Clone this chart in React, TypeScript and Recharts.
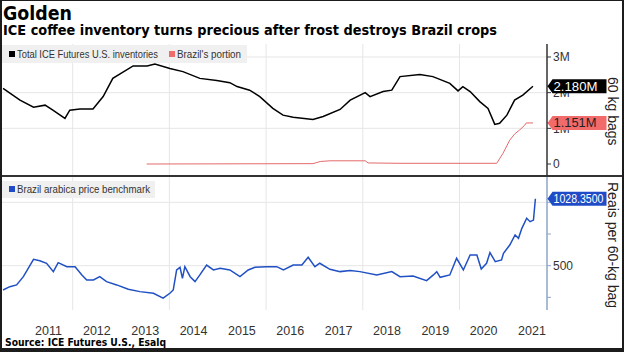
import React from "react";
import { LineChart, Line, XAxis, YAxis, CartesianGrid } from "recharts";

// Total ICE Futures U.S. inventories, million 60-kg bags
const inventoryYears = [
  2010.56, 2010.91, 2011.19, 2011.43, 2011.59, 2011.84, 2011.94, 2012.15, 2012.42, 2012.63,
  2012.83, 2013.25, 2013.54, 2013.7, 2014.01, 2014.28, 2014.63, 2014.98, 2015.25, 2015.4,
  2015.66, 2015.87, 2016.14, 2016.35, 2016.56, 2016.97, 2017.18, 2017.53, 2017.74, 2018.05,
  2018.15, 2018.42, 2018.6, 2018.77, 2019.18, 2019.45, 2019.8, 2019.97, 2020.07, 2020.22,
  2020.42, 2020.59, 2020.73, 2020.83, 2020.98, 2021.14, 2021.31, 2021.52,
];
const inventoryTotal = [
  2.12, 1.79, 1.59, 1.65, 1.51, 1.28, 1.51, 1.54, 1.54, 1.89,
  2.4, 2.75, 2.75, 2.8, 2.68, 2.59, 2.4, 2.34, 2.28, 2.17,
  2.07, 1.89, 1.56, 1.37, 1.31, 1.25, 1.33, 1.53, 1.79, 2.0,
  1.89, 2.03, 2.07, 2.45, 2.51, 2.45, 2.26, 2.05, 2.17, 2.03,
  1.75, 1.56, 1.11, 1.14, 1.37, 1.79, 1.93, 2.18,
];

// Brazil's portion, million bags
const brazilYears = [
  2013.53, 2016.97, 2017.12, 2017.32, 2018.05, 2018.11, 2018.77, 2020.77, 2020.9, 2021.04,
  2021.14, 2021.24, 2021.35, 2021.38, 2021.52,
];
const brazilPortion = [
  0.0, 0.01, 0.07, 0.09, 0.09, 0.03, 0.02, 0.02, 0.3, 0.67,
  0.84, 0.95, 1.09, 1.15, 1.151,
];

// Brazil arabica price benchmark, reais per 60-kg bag
const priceYears = [
  2010.56, 2010.7, 2010.84, 2010.98, 2011.12, 2011.19, 2011.32, 2011.46, 2011.6, 2011.7,
  2011.88, 2012.05, 2012.19, 2012.29, 2012.43, 2012.56, 2012.7, 2012.91, 2013.15, 2013.39,
  2013.67, 2013.87, 2014.01, 2014.08, 2014.15, 2014.22, 2014.27, 2014.32, 2014.43, 2014.53,
  2014.63, 2014.77, 2014.91, 2015.05, 2015.25, 2015.46, 2015.63, 2015.77, 2016.01, 2016.22,
  2016.36, 2016.56, 2016.74, 2016.87, 2017.01, 2017.11, 2017.32, 2017.53, 2017.74, 2017.94,
  2018.29, 2018.6, 2018.77, 2019.04, 2019.32, 2019.46, 2019.53, 2019.6, 2019.8, 2019.94,
  2020.08, 2020.22, 2020.36, 2020.45, 2020.56, 2020.63, 2020.74, 2020.87, 2020.91, 2021.04,
  2021.15, 2021.22, 2021.29, 2021.39, 2021.46, 2021.53, 2021.57,
];
const priceValues = [
  308, 334, 348, 413, 505, 550, 539, 519, 453, 524,
  492, 492, 427, 387, 387, 413, 374, 348, 314, 295,
  282, 243, 282, 308, 466, 487, 400, 492, 413, 374,
  427, 505, 466, 480, 466, 413, 466, 487, 492, 492,
  466, 505, 505, 566, 492, 519, 471, 453, 461, 453,
  427, 453, 413, 419, 382, 427, 453, 408, 427, 558,
  466, 584, 584, 474, 519, 603, 532, 545, 598, 663,
  742, 716, 795, 874, 847, 860, 1028.35,
];

const yearTicks = [2011.5, 2012.5, 2013.5, 2014.5, 2015.5, 2016.5, 2017.5, 2018.5, 2019.5, 2020.5, 2021.5];
const gridYears = [2012, 2014, 2016, 2018, 2020];
const inventoryTicks = [0, 1, 2, 3];
const priceTicks = [250, 500, 750, 1000];

// last values, shown as tags on the right axis
const inventoryTags = [
  { y: 1.151, text: "1.151M", bg: "#f26b6b", color: "#222", len: 43 },
  { y: 2.18, text: "2.180M", bg: "#000", color: "#fff", len: 44 },
];
const priceTags = [{ y: 1028.35, text: "1028.3500", bg: "#1f4cc6", color: "#fff", len: 50 }];

const X_MIN = 2010.538;
const X_MAX = 2021.81;

const inventoryData = inventoryYears.map((t, i) => ({ t, v: inventoryTotal[i] }));
const brazilData = brazilYears.map((t, i) => ({ t, v: brazilPortion[i] }));
const priceData = priceYears.map((t, i) => ({ t, v: priceValues[i] }));

const SANS = '"Liberation Sans", Arial, sans-serif';
const BOLD = '"DejaVu Sans", sans-serif';
const GRID = "#e6e6e6";
const TICK_SIZE = 4;
const TICK_MARGIN = 2;

// value tag: little arrow box that starts on the axis line
function Tag({ ax, cy, tag }: { ax: number; cy: number; tag: any }) {
  const x = ax + 0.5;
  return (
    <g>
      <path
        d={`M${x},${cy} L${x + 5},${cy - 7} L${x + 59},${cy - 7} L${x + 59},${cy + 7} L${x + 5},${cy + 7} Z`}
        fill={tag.bg}
      />
      <text x={x + 6} y={cy} dy="0.36em" fill={tag.color} fontSize={12.5} fontFamily={SANS} textLength={tag.len} lengthAdjust="spacingAndGlyphs">
        {tag.text}
      </text>
    </g>
  );
}

// right-axis tick: plain label, or a tag for the last-value ticks (drawn last, so on top)
function AxisTick(props: any) {
  const { x, y, payload, tags, fmt } = props;
  const tag = tags.find((g: any) => g.y === payload.value);
  if (tag) return <Tag ax={x - TICK_SIZE - TICK_MARGIN} cy={y} tag={tag} />;
  return (
    <text x={x} y={y} dy="0.355em" fill="#333" fontSize={12} fontFamily={SANS} textAnchor="start">
      {fmt(payload.value)}
    </text>
  );
}

export default function App() {
  return (
    <div style={{ position: "fixed", left: 0, top: 0, width: 624, height: 352, background: "#fff", overflow: "hidden" }}>
      <svg width={624} height={352} style={{ position: "absolute", left: 0, top: 0 }}>
        <text x={3} y={20} fontFamily={BOLD} fontWeight="bold" fontSize={19} fill="#000" textLength={69} lengthAdjust="spacingAndGlyphs">
          Golden
        </text>
        <text x={3} y={35} fontFamily={BOLD} fontWeight="bold" fontSize={13.5} fill="#000" textLength={494} lengthAdjust="spacingAndGlyphs">
          ICE coffee inventory turns precious after frost destroys Brazil crops
        </text>
        <text x={5} y={346} fontFamily={BOLD} fontWeight="bold" fontSize={10} fill="#000" textLength={161} lengthAdjust="spacingAndGlyphs">
          Source: ICE Futures U.S., Esalq
        </text>
      </svg>

      <div style={{ position: "absolute", left: 0, top: 44 }}>
        <LineChart width={624} height={131} margin={{ top: 0, right: 0, left: 2, bottom: 0 }}>
          <CartesianGrid stroke={GRID} verticalValues={gridYears} horizontalValues={[1, 2, 3]} />
          <XAxis type="number" dataKey="t" domain={[X_MIN, X_MAX]} allowDataOverflow hide />
          <YAxis
            orientation="right"
            width={77}
            domain={[-0.308, 3.364]}
            ticks={[...inventoryTicks, ...inventoryTags.map((g) => g.y)]}
            interval={0}
            axisLine={{ stroke: "#333", strokeWidth: 1.5 }}
            tickLine={{ stroke: "#333" }}
            tickSize={TICK_SIZE}
            tickMargin={TICK_MARGIN}
            tick={(p: any) => <AxisTick {...p} tags={inventoryTags} fmt={(v: number) => (v === 0 ? "0" : `${v}M`)} />}
          />
          <Line data={brazilData} dataKey="v" type="linear" stroke="#e46a6a" strokeWidth={1} dot={false} isAnimationActive={false} />
          <Line data={inventoryData} dataKey="v" type="linear" stroke="#000" strokeWidth={1.5} dot={false} isAnimationActive={false} />
        </LineChart>
      </div>

      <div style={{ position: "absolute", left: 0, top: 175, width: 624, height: 2, background: "#333" }} />

      <div style={{ position: "absolute", left: 0, top: 177 }}>
        <LineChart width={624} height={163} margin={{ top: 0, right: 0, left: 2, bottom: 0 }}>
          <CartesianGrid stroke={GRID} verticalValues={gridYears} horizontalValues={[500, 1000]} />
          <XAxis
            type="number"
            dataKey="t"
            domain={[X_MIN, X_MAX]}
            allowDataOverflow
            ticks={yearTicks}
            tickFormatter={(v: number) => String(Math.floor(v))}
            axisLine={false}
            tickLine={false}
            tickSize={14}
            height={30}
            interval={0}
            tick={{ fill: "#333", fontSize: 12.5, fontFamily: SANS }}
          />
          <YAxis
            orientation="right"
            width={77}
            domain={[150, 1200]}
            ticks={[...priceTicks, ...priceTags.map((g) => g.y)]}
            interval={0}
            axisLine={{ stroke: "#8ea4c6", strokeWidth: 1.5 }}
            tickLine={{ stroke: "#8ea4c6" }}
            tickSize={TICK_SIZE}
            tickMargin={TICK_MARGIN}
            tick={(p: any) => <AxisTick {...p} tags={priceTags} fmt={(v: number) => (v === 500 ? "500" : "")} />}
          />
          <Line data={priceData} dataKey="v" type="linear" stroke="#2050c4" strokeWidth={1.5} dot={false} isAnimationActive={false} />
        </LineChart>
      </div>

      {/* legends drawn on top of the plots */}
      <svg width={624} height={352} style={{ position: "absolute", left: 0, top: 0, pointerEvents: "none" }}>
        <rect x={2} y={45} width={245} height={18} fill="#f0f0f0" />
        <rect x={9} y={51} width={6} height={6} fill="#000" />
        <text x={17} y={58} fontFamily={SANS} fontSize={10.5} fill="#333" textLength={141} lengthAdjust="spacingAndGlyphs">
          Total ICE Futures U.S. inventories
        </text>
        <rect x={169} y={51} width={6} height={6} fill="#f26b6b" />
        <text x={177} y={58} fontFamily={SANS} fontSize={10.5} fill="#333" textLength={64} lengthAdjust="spacingAndGlyphs">
          Brazil's portion
        </text>

        <rect x={2} y={181} width={153} height={17} fill="#f0f0f0" />
        <rect x={9} y={186} width={6} height={6} fill="#1f4cc6" />
        <text x={17} y={193} fontFamily={SANS} fontSize={10.5} fill="#333" textLength={133} lengthAdjust="spacingAndGlyphs">
          Brazil arabica price benchmark
        </text>
      </svg>

      <div style={{ position: "absolute", left: 605, top: 77, width: 16, lineHeight: "16px", writingMode: "vertical-rl", fontFamily: SANS, fontSize: 14, color: "#222" }}>
        60 kg bags
      </div>
      <div style={{ position: "absolute", left: 605, top: 182, width: 16, lineHeight: "16px", writingMode: "vertical-rl", fontFamily: SANS, fontSize: 14, color: "#222" }}>
        Reais per 60-kg bag
      </div>

      <div
        style={{
          position: "absolute",
          left: 0,
          top: 0,
          width: 624,
          height: 352,
          boxSizing: "border-box",
          borderStyle: "solid",
          borderColor: "#1c1c1c",
          borderWidth: "1px 2px 4px 2px",
          pointerEvents: "none",
        }}
      />
    </div>
  );
}
